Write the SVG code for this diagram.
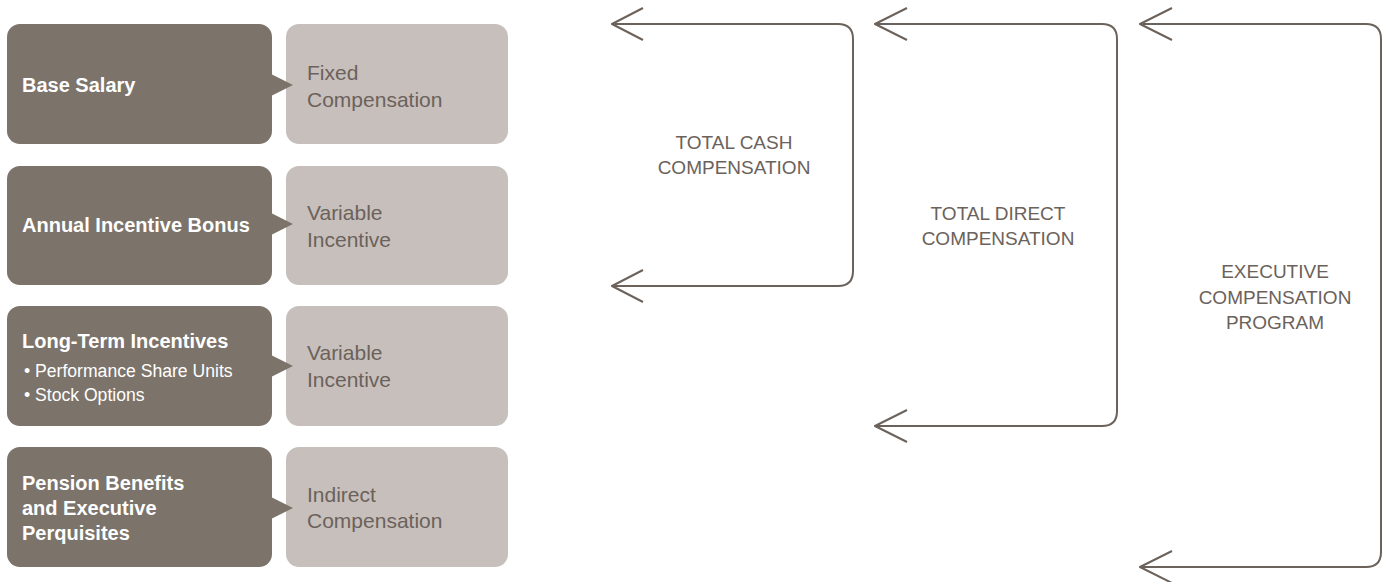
<svg xmlns="http://www.w3.org/2000/svg" width="1386" height="582" viewBox="0 0 1386 582">
<style>
.dark{fill:#7c736a}
.light{fill:#c7bfbb}
.ht{font-family:"Liberation Sans",Arial,sans-serif;font-weight:bold;font-size:20px;fill:#ffffff}
.st{font-family:"Liberation Sans",Arial,sans-serif;font-size:17.6px;fill:#ffffff}
.lt{font-family:"Liberation Sans",Arial,sans-serif;font-size:21px;fill:#6b625b}
.bt{font-family:"Liberation Sans",Arial,sans-serif;font-size:19px;fill:#6b625b;text-anchor:middle}
.ln{fill:none;stroke:#6b625b;stroke-width:2;stroke-linejoin:round}
</style>
<rect width="1386" height="582" fill="#ffffff"/>
<g id="row1">
<rect class="light" x="286" y="24" width="222" height="120" rx="13"/>
<rect class="dark" x="7" y="24" width="265" height="120" rx="13"/>
<polygon class="dark" points="271,74 293,85 271,96"/>
<text class="ht" x="22" y="92">Base Salary</text>
<text class="lt" x="307" y="80">Fixed</text>
<text class="lt" x="307" y="107">Compensation</text>
</g>
<g id="row2">
<rect class="light" x="286" y="166" width="222" height="119" rx="13"/>
<rect class="dark" x="7" y="166" width="265" height="119" rx="13"/>
<polygon class="dark" points="271,213 293,224 271,235"/>
<text class="ht" x="22" y="232">Annual Incentive Bonus</text>
<text class="lt" x="307" y="220">Variable</text>
<text class="lt" x="307" y="247">Incentive</text>
</g>
<g id="row3">
<rect class="light" x="286" y="306" width="222" height="120" rx="13"/>
<rect class="dark" x="7" y="306" width="265" height="120" rx="13"/>
<polygon class="dark" points="271,355 293,366 271,377"/>
<text class="ht" x="22" y="348">Long-Term Incentives</text>
<text class="st" x="24" y="377">• Performance Share Units</text>
<text class="st" x="24" y="401">• Stock Options</text>
<text class="lt" x="307" y="360">Variable</text>
<text class="lt" x="307" y="387">Incentive</text>
</g>
<g id="row4">
<rect class="light" x="286" y="447" width="222" height="120" rx="13"/>
<rect class="dark" x="7" y="447" width="265" height="120" rx="13"/>
<polygon class="dark" points="271,497 293,508 271,519"/>
<text class="ht" x="22" y="490">Pension Benefits</text>
<text class="ht" x="22" y="515">and Executive</text>
<text class="ht" x="22" y="540">Perquisites</text>
<text class="lt" x="307" y="502">Indirect</text>
<text class="lt" x="307" y="528">Compensation</text>
</g>
<g id="connectors">
<path class="ln" d="M612,24 H838 Q853,24 853,39 V271 Q853,286 838,286 H612"/>
<path class="ln" d="M643,8 L612,24 L643,40 M643,270 L612,286 L643,302"/>
<path class="ln" d="M875,24 H1102 Q1117,24 1117,39 V411 Q1117,426 1102,426 H875"/>
<path class="ln" d="M907,8 L875,24 L907,40 M907,410 L875,426 L907,442"/>
<path class="ln" d="M1140,24 H1366 Q1381,24 1381,39 V552 Q1381,567 1366,567 H1140"/>
<path class="ln" d="M1172,8 L1140,24 L1172,40 M1172,551 L1140,567 L1172,583"/>
</g>
<g id="labels">
<text class="bt" x="734" y="149">TOTAL CASH</text>
<text class="bt" x="734" y="174">COMPENSATION</text>
<text class="bt" x="998" y="220">TOTAL DIRECT</text>
<text class="bt" x="998" y="245">COMPENSATION</text>
<text class="bt" x="1275" y="278">EXECUTIVE</text>
<text class="bt" x="1275" y="304">COMPENSATION</text>
<text class="bt" x="1275" y="329">PROGRAM</text>
</g>
</svg>
